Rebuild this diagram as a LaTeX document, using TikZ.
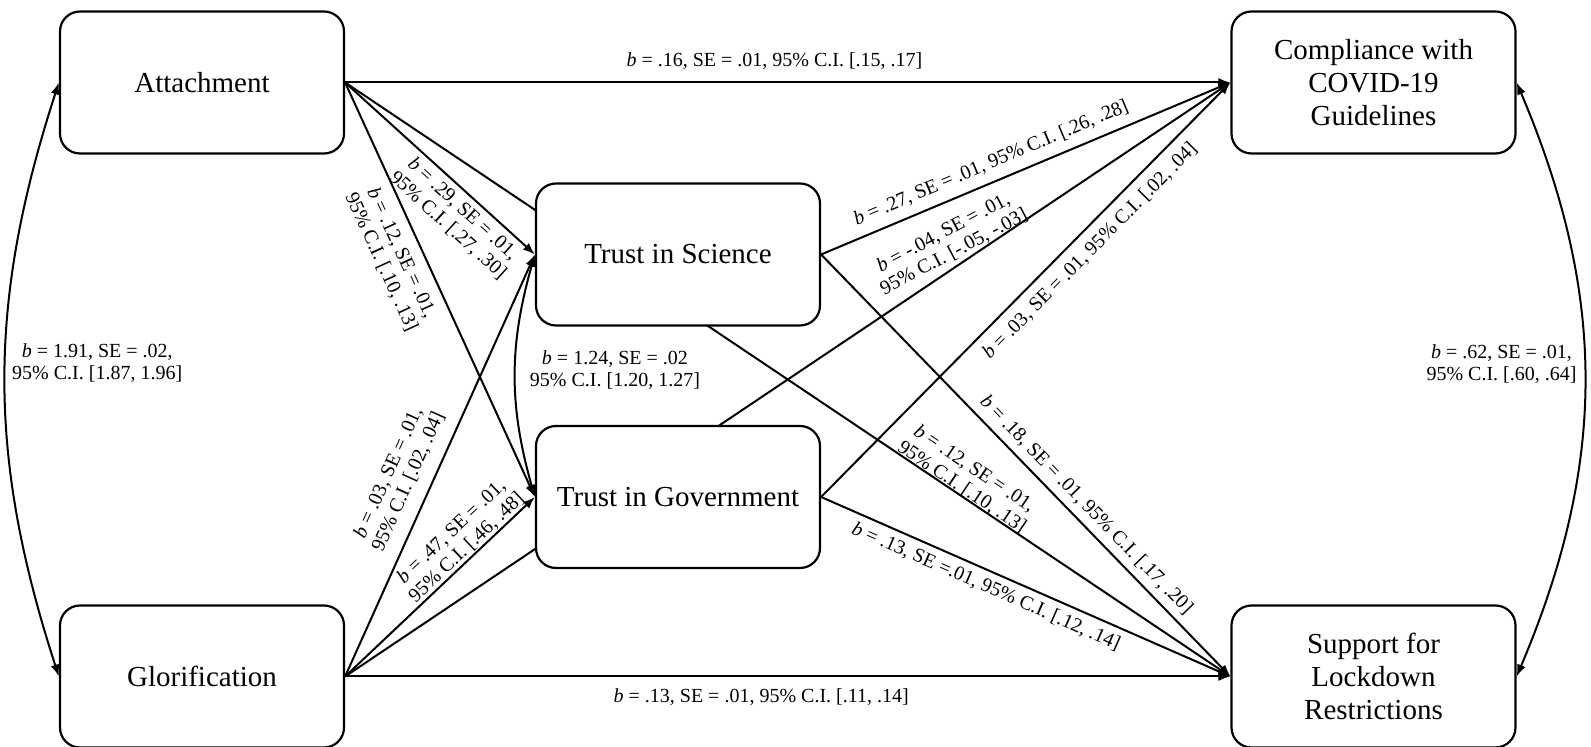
\documentclass[tikz,border=0pt]{standalone}
\usepackage{fontspec}
\setmainfont{Liberation Serif}
\usetikzlibrary{arrows.meta,backgrounds}

\begin{document}
\begin{tikzpicture}[x=0.5pt, y=0.5pt,
var/.style={draw, line width=1.1pt, rounded corners=10pt, fill=white,
  minimum width=142pt, minimum height=71pt, align=center,
  font=\fontsize{14.5}{16.5}\selectfont},
coef/.style={font=\fontsize{10}{11}\selectfont, align=center, inner sep=0pt, sloped},
arr/.style={line width=1pt, -{Latex[length=6pt, width=4.5pt]}},
cov/.style={line width=1pt, {Latex[length=6pt, width=4.5pt]}-{Latex[length=6pt, width=4.5pt]}}]
\useasboundingbox (0,0) rectangle (1591,-747);

% variables
\node[var] (att)  at (202,-82.5)    {Attachment};
\node[var] (glo)  at (202,-676.5)   {Glorification};
\node[var] (sci)  at (678,-254.5)   {Trust in Science};
\node[var] (gov)  at (678,-497)     {Trust in Government};
\node[var] (comp) at (1373.5,-82.5) {Compliance with\\COVID-19\\Guidelines};
\node[var] (supp) at (1373.5,-676.5){Support for\\Lockdown\\Restrictions};

\begin{pgfonlayer}{background}
% direct and indirect paths
\path[arr]
(att.east) edge node[coef, pos=.485, yshift=10.5pt] {\textit{b} = .16, SE = .01, 95\% C.I. [.15, .17]} (comp.west)
(glo.east) edge node[coef, pos=.47, yshift=-10.5pt] {\textit{b} = .13, SE = .01, 95\% C.I. [.11, .14]} (supp.west)
(att.east) edge node[coef, pos=.672, yshift=-13pt] {\textit{b} = .29, SE = .01,\\95\% C.I. [.27, .30]} (sci.west)
(att.east) edge node[coef, pos=.391, yshift=-15.5pt] {\textit{b} = .12, SE = .01,\\95\% C.I. [.10, .13]} (gov.west)
(glo.east) edge node[coef, pos=.44, yshift=16.5pt] {\textit{b} = .03, SE = .01,\\95\% C.I. [.02, .04]} (sci.west)
(glo.east) edge node[coef, pos=.677, yshift=10.5pt] {\textit{b} = .47, SE = .01,\\95\% C.I. [.46, .48]} (gov.west)
(sci.east) edge node[coef, pos=.433, yshift=9.25pt] {\textit{b} = .27, SE = .01, 95\% C.I. [.26, .28]} (comp.west)
(glo.east) edge node[coef, pos=.697, yshift=12pt, rotate=-6] {\textit{b} = -.04, SE = .01,\\95\% C.I. [-.05, -.03]} (comp.west)
(gov.east) edge node[coef, pos=.625, yshift=-9.25pt] {\textit{b} = .03, SE = .01, 95\% C.I. [.02, .04]} (comp.west)
(sci.east) edge node[coef, pos=.62, yshift=8pt] {\textit{b} = .18, SE = .01, 95\% C.I. [.17, .20]} (supp.west)
(att.east) edge node[coef, pos=.692, yshift=9.25pt] {\textit{b} = .12, SE = .01,\\95\% C.I. [.10, .13]} (supp.west)
(gov.east) edge node[coef, pos=.4185, yshift=-8pt] {\textit{b} = .13, SE =.01, 95\% C.I. [.12, .14]} (supp.west);

% covariances
\path[cov]
(att.west) edge[bend right=18] node[coef, sloped=false, midway, right=3pt, yshift=8pt] {\textit{b} = 1.91, SE = .02,\\95\% C.I. [1.87, 1.96]} (glo.west)
(sci.west) edge[bend right=16] node[coef, sloped=false, midway, right=6.8pt, yshift=3pt] {\textit{b} = 1.24, SE = .02\\95\% C.I. [1.20, 1.27]} (gov.west)
(comp.east) edge[bend left=23] node[coef, sloped=false, midway, left=3.5pt, yshift=7.5pt] {\textit{b} = .62, SE = .01,\\95\% C.I. [.60, .64]} (supp.east);
\end{pgfonlayer}
\end{tikzpicture}
\end{document}
